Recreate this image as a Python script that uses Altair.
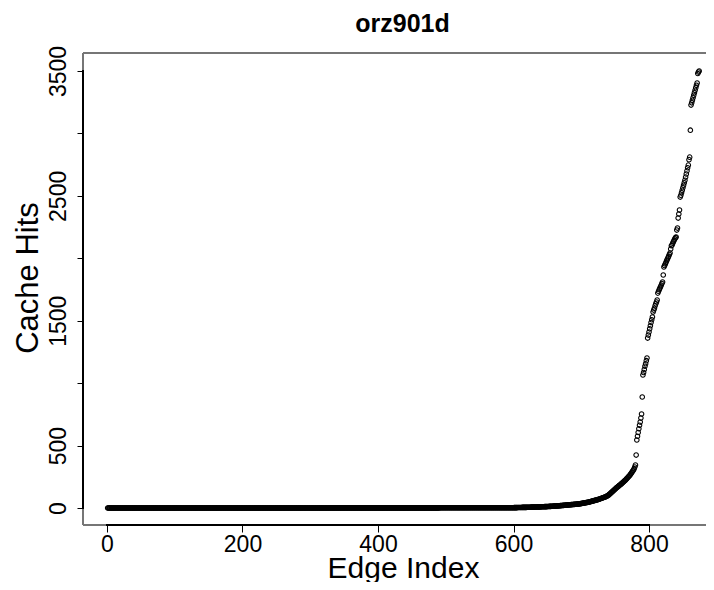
import altair as alt
import pandas as pd

# Sorted cache-hit counts per edge
low_values = [0, 1, 2]
low_counts = [330, 160, 110]          # edges 1-600, flat near zero

rise_values = [                       # edges 601-780
    3, 3, 3, 3, 3, 4, 4, 4, 4, 4, 4, 4, 5, 5, 5, 5, 5, 5, 5, 6,
    6, 6, 6, 6, 6, 7, 7, 7, 7, 7, 8, 8, 8, 8, 8, 9, 9, 9, 9, 9,
    10, 10, 10, 10, 10, 11, 11, 11, 11, 12,
    12, 12, 13, 13, 13, 14, 14, 14, 15, 15, 15, 16, 16, 17, 17, 17, 18, 18, 19, 19,
    20, 20, 21, 21, 22, 22, 23, 23, 24, 24, 25, 25, 26, 26, 27, 27, 28, 28, 29, 29,
    30, 30, 31, 31, 32, 33, 33, 34, 35, 36,
    37, 38, 39, 40, 41, 42, 43, 44, 45, 46, 47, 49, 50, 52, 53, 55, 56, 58, 59, 61,
    62, 64, 65, 67, 68, 70, 72, 74, 76, 78, 80, 82, 84, 86, 88, 90, 93, 96, 99, 103,
    107, 112, 117, 122, 127, 132, 137, 142, 147, 152, 157, 162, 166, 171, 175, 180,
    184, 189, 193, 198, 203, 208, 213, 218, 223, 229, 234, 240, 246, 252, 258, 265,
    272, 280, 288, 296, 305, 315, 328, 344,
]

top_values = [                        # edges 781-874
    424,
    545, 575, 605, 635, 662, 688,
    720, 753,
    889,
    1065, 1085, 1110, 1135, 1155, 1180, 1201,
    1361, 1385, 1410, 1435, 1460, 1485, 1508, 1529,
    1569, 1585, 1600, 1620, 1635, 1650, 1665,
    1721, 1735, 1748, 1760, 1772, 1785, 1798, 1810,
    1866,
    1930, 1942, 1955, 1967, 1980, 1992, 2005, 2017, 2030, 2042,
    2075, 2100,
    2106, 2120, 2132, 2145, 2155, 2165, 2170,
    2226, 2242,
    2322, 2355, 2386,
    2490, 2505, 2525, 2545, 2565, 2585, 2605, 2625, 2650, 2675, 2700, 2725, 2746,
    2790, 2810,
    3026,
    3227, 3245, 3265, 3285, 3305, 3325, 3345, 3365, 3385, 3403,
    3480, 3491, 3500,
]

x_ticks = [0, 200, 400, 600, 800]
y_ticks = [0, 500, 1000, 1500, 2000, 2500, 3000, 3500]

values = []
for v, c in zip(low_values, low_counts):
    values += [v] * c
values += rise_values + top_values
df = pd.DataFrame({"edge": list(range(1, len(values) + 1)), "hits": values})

FONT = "Liberation Sans"
W, H = 623, 472

x_scale = alt.Scale(domain=[-35.4, 884.1], nice=False, zero=False)
y_scale = alt.Scale(domain=[-136, 3644], nice=False, zero=False)

points = alt.Chart(df).mark_point(
    shape="circle", filled=False, stroke="black", strokeWidth=1.05,
    size=21, opacity=1
).encode(
    x=alt.X("edge:Q", scale=x_scale, axis=alt.Axis(
        values=x_ticks, format="d", tickSize=7, tickColor="black",
        labelFontSize=23, labelFont=FONT, labelColor="black", labelPadding=19,
        labelBaseline="alphabetic", labelFlush=False, labelOverlap=False,
        title="Edge Index", titleFont=FONT, titleFontSize=30,
        titleFontWeight="normal", titleColor="black",
        titleBaseline="alphabetic", titleX=320, titleY=52,
        grid=False, domain=False)),
    y=alt.Y("hits:Q", scale=y_scale, axis=alt.Axis(
        values=y_ticks, format="d", tickSize=6, tickColor="black",
        labelFontSize=23, labelFont=FONT, labelColor="black", labelAngle=270,
        labelAlign="center", labelBaseline="alphabetic", labelPadding=12,
        labelFlush=False, labelOverlap=False,
        labelExpr="(datum.value == 1000 || datum.value == 2000 || datum.value == 3000) ? '' : datum.label",
        title="Cache Hits", titleFont=FONT, titleFontSize=31,
        titleFontWeight="normal", titleColor="black", titleAngle=270,
        titleAlign="center", titleBaseline="alphabetic",
        titleX=-46, titleY=224.5, grid=False, domain=False)),
)

# plot frame (grey box, open to the right edge of the page)
frame_top = alt.Chart(df).mark_rule(color="#777777", strokeWidth=1).encode(
    x=alt.value(0), x2=alt.value(W), y=alt.value(0)
)
frame_bottom = alt.Chart(df).mark_rule(color="#777777", strokeWidth=1).encode(
    x=alt.value(0), x2=alt.value(W), y=alt.value(H)
)
frame_left = alt.Chart(df).mark_rule(color="#777777", strokeWidth=1).encode(
    y=alt.value(0), y2=alt.value(H), x=alt.value(0)
)
# dark axis lines spanning first to last tick
x_line = alt.Chart(df).mark_rule(color="black", strokeWidth=1).encode(
    x=alt.datum(x_ticks[0]), x2=alt.datum(x_ticks[-1]), y=alt.value(H)
)
y_line = alt.Chart(df).mark_rule(color="black", strokeWidth=1).encode(
    y=alt.datum(y_ticks[0]), y2=alt.datum(y_ticks[-1]), x=alt.value(0)
)

chart = alt.layer(points, frame_top, frame_bottom, frame_left, x_line, y_line).properties(
    width=W, height=H,
    title=alt.TitleParams("orz901d", font=FONT, fontSize=25, fontWeight="bold",
                          color="black", anchor="middle", baseline="alphabetic",
                          offset=0, dx=8, dy=12),
    autosize=alt.AutoSizeParams(type="none"),
    padding={"left": 75, "top": 45, "right": 0, "bottom": 57},
).configure_view(strokeWidth=0)

chart.save("out.html", embed_options={"renderer": "svg", "actions": False})
